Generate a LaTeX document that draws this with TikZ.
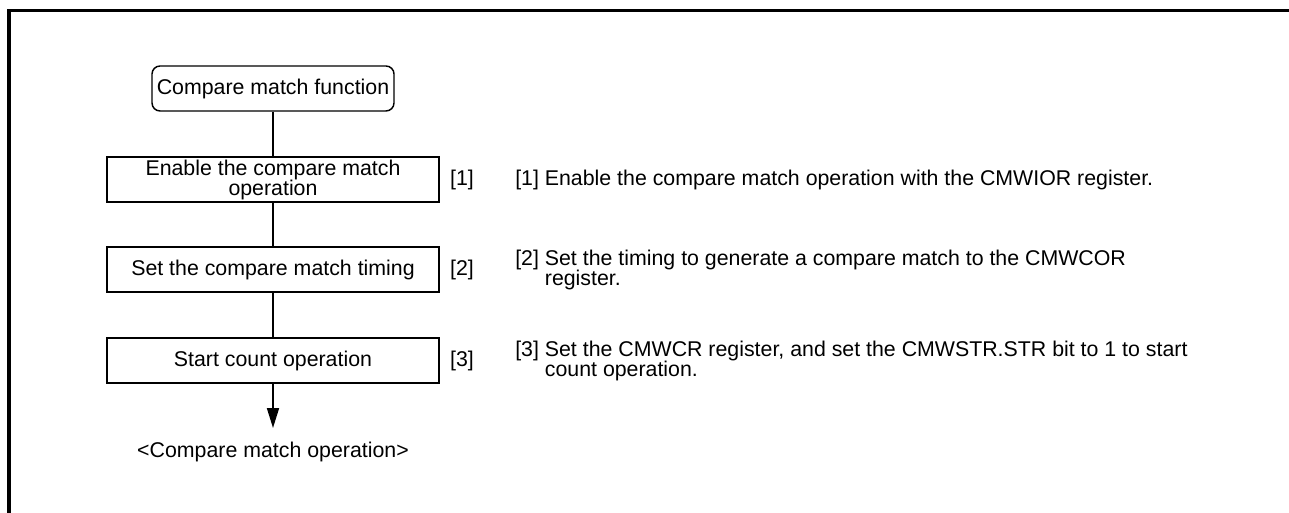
\documentclass[tikz,border=0pt]{standalone}
\usepackage{fontspec}
\setmainfont{Liberation Sans}
\usetikzlibrary{arrows.meta}

\begin{document}
\begin{tikzpicture}[x=0.75pt,y=-0.75pt,
    every node/.style={font=\fontsize{16}{15}\selectfont},
    procbox/.style={draw, line width=1.1pt, minimum width=249pt,
      minimum height=33.75pt, inner sep=0pt, align=center},
    termbox/.style={procbox, rounded corners=6pt, minimum width=181.5pt},
    flow/.style={line width=1.3pt},
    note/.style={anchor=west, align=left, inner sep=0pt}]
  \useasboundingbox (0,0) rectangle (1289,513);
  % open frame (top and left only)
  \draw[line width=2.4pt] (9,513) -- (9,10.5) -- (1289,10.5);

  % flow chart
  \node[termbox] (start) at (273,88.5) {Compare match function};
  \node[procbox] (s1) at (273,179.5) {Enable the compare match\\operation};
  \node[procbox] (s2) at (273,269.5) {Set the compare match timing};
  \node[procbox] (s3) at (273,360.5) {Start count operation};
  \coordinate (tip) at (273,428);
  \node (endop) at (273,452) {<Compare match operation>};

  \draw[flow] (start) -- (s1);
  \draw[flow] (s1) -- (s2);
  \draw[flow] (s2) -- (s3);
  \draw[flow, -{Triangle[length=15pt, width=9pt]}] (s3) -- (tip);

  % step numbers
  \foreach \n/\y in {1/179.5,2/269.5,3/360.5}
    \node (lbl\n) at (462,\y) {[\n]};

  % notes
  \node[note] (n1) at (515,179.5) {[1] Enable the compare match operation with the CMWIOR register.};
  \node[note] (n2) at (515,269.5)
    {[2] Set the timing to generate a compare match to the CMWCOR\\\phantom{[2] }register.};
  \node[note] (n3) at (515,360.5)
    {[3] Set the CMWCR register, and set the CMWSTR.STR bit to 1 to start\\\phantom{[3] }count operation.};
\end{tikzpicture}
\end{document}
